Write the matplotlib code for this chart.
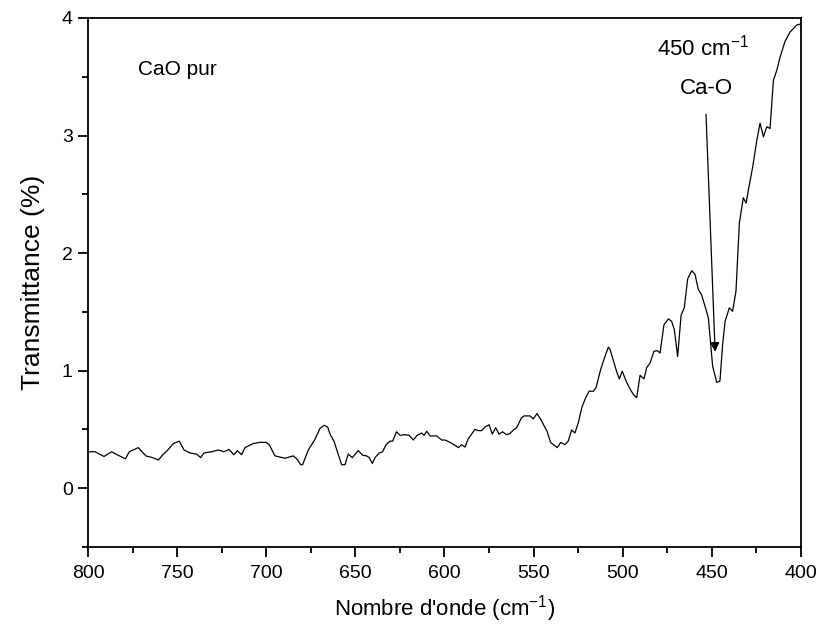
import matplotlib
matplotlib.use("Agg")
import matplotlib.pyplot as plt
from matplotlib.ticker import MultipleLocator

plt.rcParams["font.family"] = ["Liberation Sans", "DejaVu Sans"]
plt.rcParams["mathtext.fontset"] = "custom"
plt.rcParams["mathtext.rm"] = "Liberation Sans"
plt.rcParams["mathtext.default"] = "regular"

# spectre FTIR de CaO pur
wavenumber = [800, 796, 791, 786.7, 783, 779, 776.8, 771.8, 767.5, 763.7, 760.5, 757.7,
              755.5, 752.1, 748.8, 746.1, 742.8, 739, 736.8, 734.9, 730.6, 726.9, 723.7,
              720.9, 718.1, 716.2, 713.8, 711.9, 707.3, 703.5, 700.1, 698.3, 695.1, 692.3,
              689.5, 684.8, 682.6, 680.7, 679.6, 676.4, 672.7, 669.8, 667.5, 665.5, 664.2,
              662, 659.6, 657.7, 655.8, 654, 651.7, 648.4, 645.9, 643.7, 642.2, 640.5, 639,
              636.6, 634.7, 632.8, 630.6, 629.1, 626.9, 625, 622.2, 619.8, 617.5, 615.3,
              612.8, 611.5, 610, 608.1, 604.4, 601.6, 599.7, 596.9, 594.1, 592.2, 590.4,
              588.5, 586.7, 582.9, 581, 579.1, 577.3, 575, 573.2, 571.3, 569.4, 567.4,
              565.2, 563.3, 561.4, 559.5, 556.8, 555.4, 552, 550.2, 548.1, 546.2, 542.5,
              540.5, 538.9, 536.7, 534.8, 532.4, 530.6, 528.7, 526.8, 524.9, 523, 520.8,
              518.9, 516.5, 515, 512.4, 510, 508.1, 507.2, 504.9, 503.4, 501.9, 500.3,
              497.8, 495.6, 493.7, 492.2, 490.3, 488.1, 486.6, 484.7, 482.5, 480.6, 479.1,
              476.9, 474.4, 472.6, 471.1, 469.2, 467.3, 465.5, 463.6, 461.3, 459.5, 457.6,
              455.8, 453.9, 452, 449.6, 447.3, 445.5, 444.0, 442.6, 440.2, 438.4, 436.5,
              434.6, 432.4, 430.8, 429.5, 427.1, 424.9, 423, 421.1, 419.2, 417.4, 415.5,
              413.6, 411.7, 409, 406.2, 402.4, 400]
transmittance = [0.31, 0.31, 0.27, 0.31, 0.28, 0.25, 0.31, 0.345, 0.275, 0.26, 0.24, 0.29,
                 0.32, 0.38, 0.40, 0.325, 0.30, 0.29, 0.26, 0.30, 0.31, 0.325, 0.31,
                 0.33, 0.285, 0.32, 0.285, 0.345, 0.38, 0.39, 0.39, 0.37, 0.275, 0.265,
                 0.255, 0.275, 0.245, 0.20, 0.20, 0.325, 0.415, 0.51, 0.535, 0.52, 0.46,
                 0.40, 0.29, 0.20, 0.20, 0.29, 0.26, 0.32, 0.28, 0.275, 0.26, 0.21, 0.26,
                 0.30, 0.31, 0.37, 0.40, 0.40, 0.48, 0.45, 0.455, 0.45, 0.41, 0.45,
                 0.47, 0.45, 0.485, 0.445, 0.445, 0.41, 0.41, 0.39, 0.365, 0.345, 0.37,
                 0.35, 0.42, 0.50, 0.49, 0.49, 0.52, 0.54, 0.46, 0.515, 0.46, 0.48,
                 0.455, 0.465, 0.495, 0.515, 0.60, 0.615, 0.615, 0.59, 0.635, 0.59, 0.485,
                 0.39, 0.37, 0.345, 0.39, 0.37, 0.40, 0.495, 0.47, 0.56, 0.685, 0.77,
                 0.825, 0.825, 0.855, 1.01, 1.12, 1.20, 1.185, 1.065, 0.99, 0.93, 0.995,
                 0.90, 0.835, 0.79, 0.77, 0.96, 0.93, 1.025, 1.065, 1.165, 1.17, 1.15,
                 1.39, 1.44, 1.42, 1.35, 1.12, 1.47, 1.535, 1.78, 1.85, 1.82, 1.69,
                 1.645, 1.55, 1.45, 1.04, 0.90, 0.91, 1.22, 1.42, 1.535, 1.505, 1.675,
                 2.255, 2.47, 2.425, 2.54, 2.735, 2.95, 3.105, 2.99, 3.075, 3.06, 3.47,
                 3.555, 3.67, 3.80, 3.88, 3.94, 3.95]

fig = plt.figure(figsize=(8.22, 6.35), dpi=100)
ax = fig.add_axes([0.107, 0.1386, 0.8675, 0.8331])
ax.plot(wavenumber, transmittance, color="black", lw=0.9)

ax.set_xlim(800, 400)
ax.set_ylim(-0.5, 4)
ax.xaxis.set_major_locator(MultipleLocator(50))
ax.xaxis.set_minor_locator(MultipleLocator(25))
ax.yaxis.set_major_locator(MultipleLocator(1))
ax.yaxis.set_minor_locator(MultipleLocator(0.5))
ax.tick_params(which="both", direction="out", width=1.3, labelsize=14)
ax.tick_params(axis="x", which="major", length=7, pad=6)
ax.tick_params(axis="y", which="major", length=7, pad=4)
ax.tick_params(which="minor", length=4)
for s in ax.spines.values():
    s.set_linewidth(1.3)

ax.set_xlabel("Nombre d'onde (cm$^{\\mathregular{-1}}$)", fontsize=16, labelpad=8)
ax.set_ylabel("Transmittance (%)", fontsize=19, labelpad=12)

ax.text(772, 3.56, "CaO pur", fontsize=15, va="center", ha="left")
ax.text(455, 3.75, "450 cm$^{\\mathregular{-1}}$", fontsize=16, ha="center", va="center")
ax.text(453, 3.4, "Ca-O", fontsize=16, ha="center", va="center")
ax.annotate("", xy=(448.2, 1.16), xytext=(453.3, 3.18),
            arrowprops=dict(arrowstyle="-|>", color="black", lw=0.9,
                            mutation_scale=14, shrinkA=0, shrinkB=0))

plt.savefig("out.png", dpi=100)
